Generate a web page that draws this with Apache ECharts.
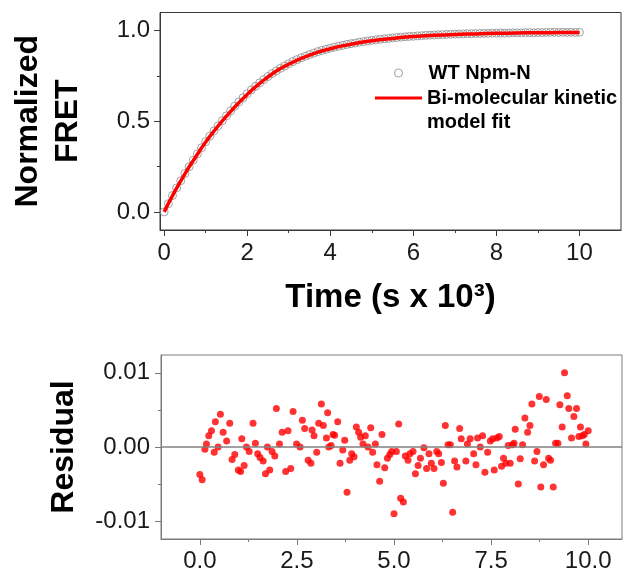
<!DOCTYPE html>
<html>
<head>
<meta charset="utf-8">
<script src="https://cdn.jsdelivr.net/npm/echarts@6/dist/echarts.min.js"></script>
<style>
  html, body { margin: 0; padding: 0; background: #fff; }
  #chart { width: 624px; height: 573px; }
</style>
</head>
<body>
<div id="chart"></div>
<script>
// top panel: normalized FRET vs time (s x 10^3)
const fretTime = [
    0.0, 0.1, 0.2, 0.3, 0.4, 0.5, 0.6, 0.7, 0.8, 0.9,
    1.0, 1.1, 1.2, 1.3, 1.4, 1.5, 1.6, 1.7, 1.8, 1.9,
    2.0, 2.1, 2.2, 2.3, 2.4, 2.5, 2.6, 2.7, 2.8, 2.9,
    3.0, 3.1, 3.2, 3.3, 3.4, 3.5, 3.6, 3.7, 3.8, 3.9,
    4.0, 4.1, 4.2, 4.3, 4.4, 4.5, 4.6, 4.7, 4.8, 4.9,
    5.0, 5.1, 5.2, 5.3, 5.4, 5.5, 5.6, 5.7, 5.8, 5.9,
    6.0, 6.1, 6.2, 6.3, 6.4, 6.5, 6.6, 6.7, 6.8, 6.9,
    7.0, 7.1, 7.2, 7.3, 7.4, 7.5, 7.6, 7.7, 7.8, 7.9,
    8.0, 8.1, 8.2, 8.3, 8.4, 8.5, 8.6, 8.7, 8.8, 8.9,
    9.0, 9.1, 9.2, 9.3, 9.4, 9.5, 9.6, 9.7, 9.8, 9.9,
    10.0
];
const fretValues = [
    0.000, 0.045, 0.090, 0.132, 0.172, 0.212, 0.249, 0.285, 0.320, 0.354,
    0.387, 0.418, 0.447, 0.475, 0.503, 0.530, 0.557, 0.583, 0.607, 0.630,
    0.652, 0.673, 0.693, 0.712, 0.730, 0.747, 0.763, 0.778, 0.792, 0.805,
    0.817, 0.829, 0.840, 0.850, 0.859, 0.868, 0.876, 0.884, 0.891, 0.897,
    0.903, 0.909, 0.914, 0.919, 0.924, 0.928, 0.932, 0.936, 0.940, 0.943,
    0.946, 0.949, 0.952, 0.955, 0.957, 0.960, 0.962, 0.964, 0.966, 0.968,
    0.969, 0.971, 0.972, 0.974, 0.975, 0.976, 0.977, 0.978, 0.979, 0.980,
    0.981, 0.981, 0.982, 0.983, 0.983, 0.984, 0.984, 0.985, 0.985, 0.986,
    0.986, 0.987, 0.986, 0.987, 0.988, 0.988, 0.988, 0.989, 0.989, 0.988,
    0.990, 0.989, 0.990, 0.991, 0.991, 0.990, 0.991, 0.990, 0.991, 0.990,
    0.991
];

// fitted curve
const fitTime = [
    0, 0.25, 0.5, 0.75, 1.0, 1.25, 1.5, 1.75, 2.0, 2.25, 2.5, 2.75, 3.0,
    3.5, 4.0, 4.5, 5.0, 5.5, 6.0, 6.5, 7.0, 7.5, 8.0, 8.5, 9.0, 9.5, 10.0
];
const fitValues = [
    0.000, 0.110, 0.210, 0.300, 0.385, 0.460, 0.528, 0.591, 0.648, 0.699, 0.744, 0.784, 0.815,
    0.865, 0.900, 0.925, 0.944, 0.957, 0.967, 0.974, 0.979, 0.982, 0.985, 0.987, 0.988, 0.989, 0.990
];

// bottom panel: residuals
const residTime = [
    0.00, 0.06, 0.13, 0.17, 0.23, 0.30, 0.37, 0.40, 0.47, 0.53,
    0.60, 0.69, 0.77, 0.83, 0.90, 0.99, 1.05, 1.08, 1.14, 1.20,
    1.27, 1.37, 1.43, 1.49, 1.55, 1.63, 1.69, 1.74, 1.80, 1.86,
    1.93, 1.97, 2.05, 2.12, 2.21, 2.27, 2.34, 2.40, 2.49, 2.58,
    2.64, 2.70, 2.79, 2.86, 2.89, 2.94, 3.01, 3.06, 3.13, 3.18,
    3.26, 3.29, 3.32, 3.38, 3.43, 3.47, 3.55, 3.61, 3.68, 3.73,
    3.79, 3.86, 3.91, 3.97, 4.03, 4.09, 4.14, 4.20, 4.26, 4.33,
    4.40, 4.45, 4.52, 4.56, 4.63, 4.69, 4.76, 4.83, 4.89, 4.94,
    5.00, 5.06, 5.12, 5.17, 5.24, 5.29, 5.36, 5.41, 5.49, 5.55,
    5.62, 5.68, 5.77, 5.84, 5.90, 5.96, 6.03, 6.10, 6.15, 6.22,
    6.27, 6.32, 6.39, 6.45, 6.51, 6.56, 6.62, 6.69, 6.73, 6.85,
    6.89, 6.96, 7.05, 7.11, 7.15, 7.22, 7.28, 7.34, 7.41, 7.48,
    7.54, 7.58, 7.65, 7.71, 7.77, 7.82, 7.88, 7.94, 7.99, 8.05,
    8.09, 8.12, 8.20, 8.25, 8.31, 8.37, 8.44, 8.50, 8.55, 8.62,
    8.68, 8.74, 8.78, 8.85, 8.92, 8.98, 9.03, 9.10, 9.16, 9.22,
    9.27, 9.33, 9.39, 9.46, 9.50, 9.57, 9.63, 9.70, 9.76, 9.80,
    9.85, 9.90, 9.94, 10.00
];
const residValues = [
    -0.0037, -0.0044, -0.0003, 0.0004, 0.0015, 0.0022, -0.0007, 0.0034, 0.0000, 0.0044,
    0.0020, 0.0008, 0.0032, -0.0017, -0.0010, -0.0031, -0.0033, 0.0011, -0.0025, 0.0000,
    -0.0006, 0.0032, 0.0005, -0.0009, -0.0014, -0.0019, -0.0036, 0.0000, -0.0031, -0.0006,
    -0.0012, 0.0052, 0.0004, 0.0020, -0.0033, 0.0022, -0.0029, 0.0048, 0.0004, 0.0000,
    0.0036, 0.0025, -0.0018, -0.0022, 0.0023, 0.0015, -0.0007, 0.0032, 0.0058, 0.0029,
    0.0012, 0.0046, 0.0000, 0.0002, 0.0017, 0.0016, 0.0034, -0.0022, -0.0004, 0.0009,
    -0.0061, -0.0018, -0.0009, -0.0013, 0.0027, 0.0020, 0.0013, 0.0004, 0.0015, 0.0000,
    0.0026, -0.0007, 0.0004, -0.0024, -0.0046, 0.0017, -0.0028, -0.0015, -0.0010, -0.0006,
    -0.0090, -0.0006, 0.0031, -0.0069, -0.0074, -0.0012, -0.0018, -0.0009, -0.0006, -0.0036,
    -0.0025, -0.0015, -0.0001, -0.0029, -0.0009, -0.0022, -0.0029, -0.0006, -0.0009, -0.0021,
    -0.0049, 0.0029, 0.0003, 0.0003, -0.0088, -0.0019, -0.0027, 0.0025, 0.0011, -0.0019,
    0.0004, 0.0011, -0.0009, -0.0024, 0.0012, 0.0000, 0.0015, -0.0034, -0.0007, 0.0008,
    0.0011, -0.0031, 0.0012, 0.0014, -0.0026, -0.0015, -0.0022, 0.0002, -0.0022, 0.0003,
    0.0005, 0.0024, -0.0050, -0.0016, 0.0003, 0.0039, 0.0020, 0.0029, 0.0058, -0.0019,
    -0.0006, 0.0068, -0.0054, -0.0024, 0.0064, -0.0015, -0.0018, -0.0054, 0.0005, 0.0005,
    0.0057, 0.0027, 0.0100, 0.0069, 0.0052, 0.0012, 0.0041, 0.0052, 0.0014, 0.0027,
    0.0015, 0.0017, 0.0004, 0.0022
];

// tick positions
const topXMajor = [0, 2, 4, 6, 8, 10];
const topXMinor = [1, 3, 5, 7, 9];
const topYMajor = [0, 0.5, 1.0];
const topYMinor = [0.25, 0.75];
const botXMajor = [0, 2.5, 5, 7.5, 10];
const botXMinor = [1.25, 3.75, 6.25, 8.75];
const botYMajor = [-0.01, 0, 0.01];
const botYMinor = [-0.005, 0.005];

const FONT = "'Liberation Sans', Arial, sans-serif";
const topLine = "#3a3a3a";
const botLine = "#7a7a7a";

const zip = (xs, ys) => xs.map((x, i) => [x, ys[i]]);

const tickLabel = {
    fontFamily: FONT,
    fontSize: 24,
    color: "#1a1a1a"
};
const axisTitle = {
    fontFamily: FONT,
    fontSize: 32,
    fontWeight: "bold",
    color: "#000",
    lineHeight: 40
};
const legendText = {
    fontFamily: FONT,
    fontSize: 20,
    fontWeight: "bold",
    color: "#000",
    lineHeight: 24
};

// main axis: line, major ticks, labels
const mainAxis = (gridIndex, min, max, major, color, digits, margin, extra) =>
    Object.assign(
        {
            type: "value",
            gridIndex: gridIndex,
            min: min,
            max: max,
            axisLine: { show: true, onZero: false, lineStyle: { color: color, width: 1 } },
            axisTick: { show: true, customValues: major, length: 6, lineStyle: { color: color, width: 1 } },
            axisLabel: {
                customValues: major,
                margin: margin,
                formatter: v => Number(v).toFixed(digits),
                ...tickLabel
            },
            splitLine: { show: false }
        },
        extra
    );

// overlay axis: minor ticks only
const minorAxis = (gridIndex, min, max, minor, color, position) => ({
    type: "value",
    gridIndex: gridIndex,
    position: position,
    min: min,
    max: max,
    axisLine: { show: false, onZero: false },
    axisTick: { show: true, customValues: minor, length: 3, lineStyle: { color: color, width: 1 } },
    axisLabel: { show: false },
    splitLine: { show: false }
});

const chart = echarts.init(document.getElementById("chart"));

const option = {
    backgroundColor: "#fff",
    animation: false,
    grid: [
        { left: 157, top: 12.5, width: 464, height: 217.5, show: true, borderColor: topLine, borderWidth: 1 },
        { left: 161, top: 355, width: 461, height: 185.5, show: true, borderColor: botLine, borderWidth: 1 }
    ],
    legend: [
        {
            left: 394,
            top: 61,
            padding: 0,
            itemWidth: 8,
            itemHeight: 8,
            selectedMode: false,
            textStyle: Object.assign({ padding: [0, 0, 0, 21] }, legendText),
            data: [
                {
                    name: "WT Npm-N",
                    icon: "circle",
                    itemStyle: { color: "rgba(0,0,0,0)", borderColor: "#888", borderWidth: 1 }
                }
            ]
        },
        {
            left: 375,
            top: 62,
            padding: 0,
            itemWidth: 47,
            itemHeight: 3,
            selectedMode: false,
            formatter: () => "\nBi-molecular kinetic\nmodel fit",
            textStyle: legendText,
            data: [
                {
                    name: "Bi-molecular kinetic model fit",
                    icon: "rect",
                    itemStyle: { color: "#ff0000", borderWidth: 0 }
                }
            ]
        }
    ],
    xAxis: [
        mainAxis(0, -0.1, 11, topXMajor, topLine, 0, 11, {
            position: "bottom",
            name: "Time (s x 10³)",
            nameLocation: "middle",
            nameGap: 48,
            nameTextStyle: Object.assign({}, axisTitle, { fontSize: 33 })
        }),
        minorAxis(0, -0.1, 11, topXMinor, topLine, "bottom"),
        mainAxis(1, -1.0, 10.87, botXMajor, botLine, 1, 10, { position: "bottom" }),
        minorAxis(1, -1.0, 10.87, botXMinor, botLine, "bottom")
    ],
    yAxis: [
        mainAxis(0, -0.1, 1.1, topYMajor, topLine, 1, 10, {
            position: "left",
            name: "Normalized\nFRET",
            nameLocation: "middle",
            nameGap: 72,
            nameTextStyle: axisTitle
        }),
        minorAxis(0, -0.1, 1.1, topYMinor, topLine, "left"),
        mainAxis(1, -0.0124, 0.0124, botYMajor, botLine, 2, 11, {
            position: "left",
            name: "Residual",
            nameLocation: "middle",
            nameGap: 76,
            nameTextStyle: axisTitle
        }),
        minorAxis(1, -0.0124, 0.0124, botYMinor, botLine, "left")
    ],
    series: [
        {
            name: "WT Npm-N",
            type: "scatter",
            xAxisIndex: 0,
            yAxisIndex: 0,
            data: zip(fretTime, fretValues),
            symbol: "circle",
            symbolSize: 8,
            itemStyle: { color: "rgba(0,0,0,0)", borderColor: "#8c8c8c", borderWidth: 1 },
            z: 2
        },
        {
            name: "Bi-molecular kinetic model fit",
            type: "line",
            xAxisIndex: 0,
            yAxisIndex: 0,
            data: zip(fitTime, fitValues),
            smooth: true,
            symbol: "none",
            lineStyle: { color: "#ff0000", width: 3.5 },
            itemStyle: { color: "#ff0000" },
            z: 3
        },
        {
            name: "Residual",
            type: "scatter",
            xAxisIndex: 2,
            yAxisIndex: 2,
            data: zip(residTime, residValues),
            symbol: "circle",
            symbolSize: 7,
            itemStyle: { color: "#ff0000" },
            markLine: {
                silent: true,
                symbol: "none",
                label: { show: false },
                lineStyle: { color: "#808080", width: 1.5, type: "solid" },
                data: [{ yAxis: 0 }]
            },
            z: 3
        }
    ]
};

chart.setOption(option);
</script>
</body>
</html>
